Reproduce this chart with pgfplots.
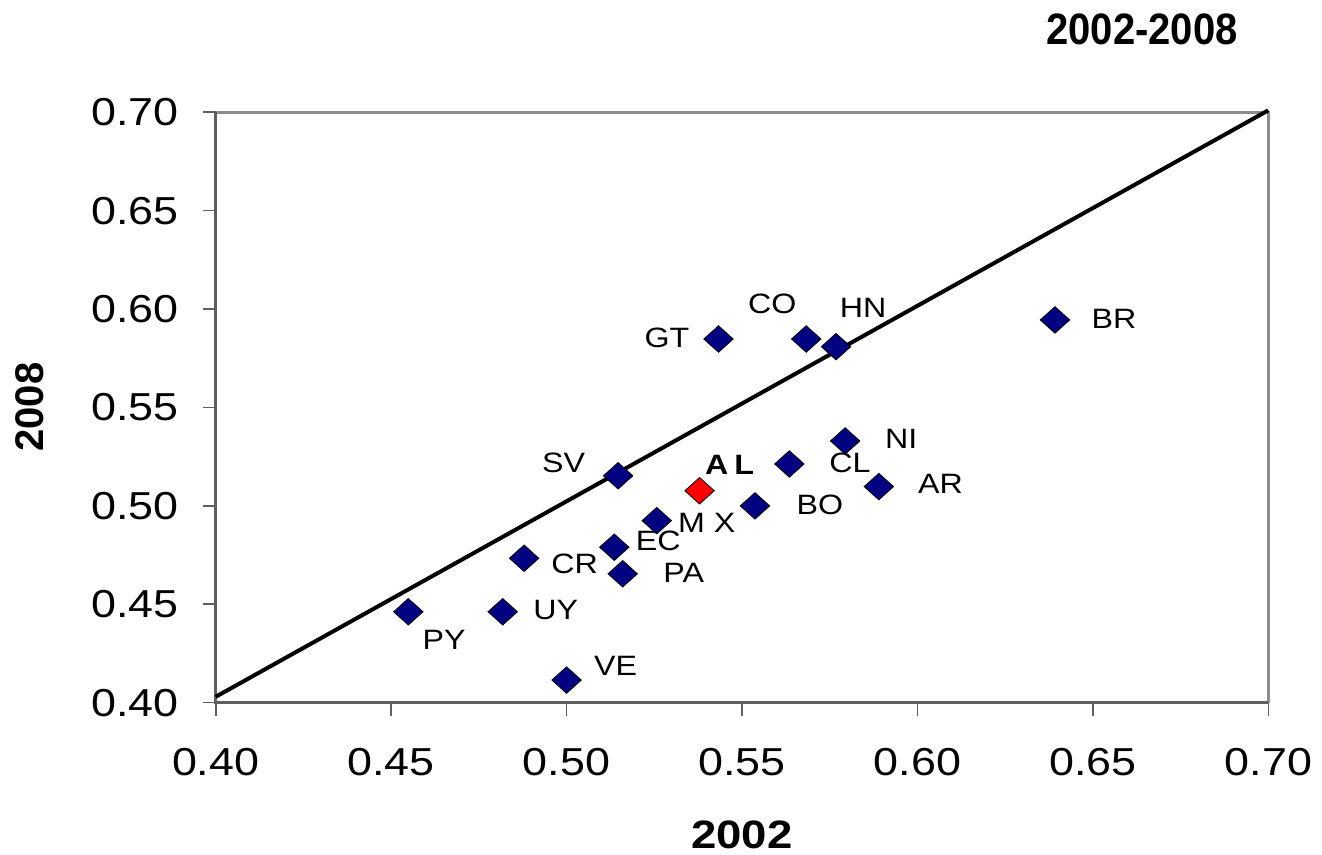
\documentclass[border=0pt]{standalone}
\usepackage{fontspec}
\setmainfont{Liberation Sans}[FakeStretch=1.15]
\newfontfamily\plainsans{Liberation Sans}
\newfontfamily\narrowsans{Liberation Sans}[FakeStretch=0.91]
\usepackage{pgfplots}
\usepackage{pgfplotstable}
\pgfplotsset{compat=1.18}
\definecolor{navy}{RGB}{0,0,128}
\definecolor{axdark}{RGB}{95,95,95}
\definecolor{axlight}{RGB}{140,140,140}

\pgfplotstableread{
x y lab dx dy
0.4549 0.4462 PY 17.9 -14.2
0.4818 0.4462 UY 26.5 0.7
0.5000 0.4115 VE 24.5 7
0.4879 0.4734 CR 25.2 -3
0.5136 0.4790 EC 22 3
0.5160 0.4655 PA 30.5 0.5
0.5257 0.4925 M~X 25 -1
0.5147 0.5153 SV -27.3 6.3
0.5537 0.5000 BO 32.5 0.5
0.5635 0.5213 CL 30.3 0.75
0.5794 0.5330 NI 28 1
0.5890 0.5098 AR 30.8 1.3
0.5433 0.5848 GT -25.8 0.75
0.5683 0.5848 CO -17 17.5
0.5768 0.5809 HN 13.5 19.5
0.6392 0.5945 BR 29.5 0.75
}\countries

\begin{document}
\begin{tikzpicture}
\useasboundingbox (-107.85pt,-76.15pt) rectangle (553.15pt,351.35pt);
\begin{axis}[
  at={(0pt,0pt)}, anchor=south west,
  scale only axis, width=526.3pt, height=295.2pt,
  xmin=0.40, xmax=0.70, ymin=0.40, ymax=0.70,
  xtick={0.40,0.45,0.50,0.55,0.60,0.65,0.70},
  ytick={0.40,0.45,0.50,0.55,0.60,0.65,0.70},
  xticklabels={0.40,0.45,0.50,0.55,0.60,0.65,0.70},
  yticklabels={0.40,0.45,0.50,0.55,0.60,0.65,0.70},
  tick pos=left, tick align=outside, major tick length=6.5pt,
  tick style={axdark, line width=0.8pt},
  axis line style={draw=none},
  ticklabel style={font=\fontsize{19.5}{21}\selectfont, inner sep=0pt},
  yticklabel style={anchor=east, xshift=-11.85pt},
  xticklabel style={anchor=north, yshift=-16.2pt},
  clip=false,
]
\draw[axlight, line width=1.5pt] (rel axis cs:0,1) -- (rel axis cs:1,1) -- (rel axis cs:1,0);
\draw[axdark, line width=1.5pt] (rel axis cs:0,1) -- (rel axis cs:0,0) -- (rel axis cs:1,0);

\addplot[black, line width=2pt] coordinates {(0.40,0.403) (0.70,0.701)};

\addplot[only marks, mark=square*, mark size=5.2pt,
  mark options={fill=navy, draw=none, yscale=0.9, rotate=45},
  point meta=explicit symbolic,
  visualization depends on={\thisrow{dx} \as \dx},
  visualization depends on={\thisrow{dy} \as \dy},
  nodes near coords,
  every node near coord/.append style={anchor=center, inner sep=0pt,
    xshift=\dx, yshift=\dy, font=\fontsize{14}{16}\selectfont, black},
] table[x=x, y=y, meta=lab] {\countries};

\addplot[only marks, mark=square*, mark size=5.2pt,
  mark options={fill=red, draw=none, yscale=0.9, rotate=45},
  nodes near coords={\textbf{A\kern3ptL}},
  every node near coord/.append style={anchor=center, inner sep=0pt,
    xshift=15pt, yshift=12.8pt, font=\fontsize{14}{16}\selectfont, black},
] coordinates {(0.5379,0.5077)};
\end{axis}
\node[anchor=base, font=\narrowsans\bfseries\fontsize{22}{24}\selectfont] at (463.15pt,328.85pt) {2002-2008};
\node[anchor=base, font=\bfseries\fontsize{19.8}{22}\selectfont] at (263pt,-73pt) {2002};
\node[anchor=center, rotate=90, font=\plainsans\bfseries\fontsize{20}{22}\selectfont] at (-92.85pt,147.85pt) {2008};
\end{tikzpicture}
\end{document}
